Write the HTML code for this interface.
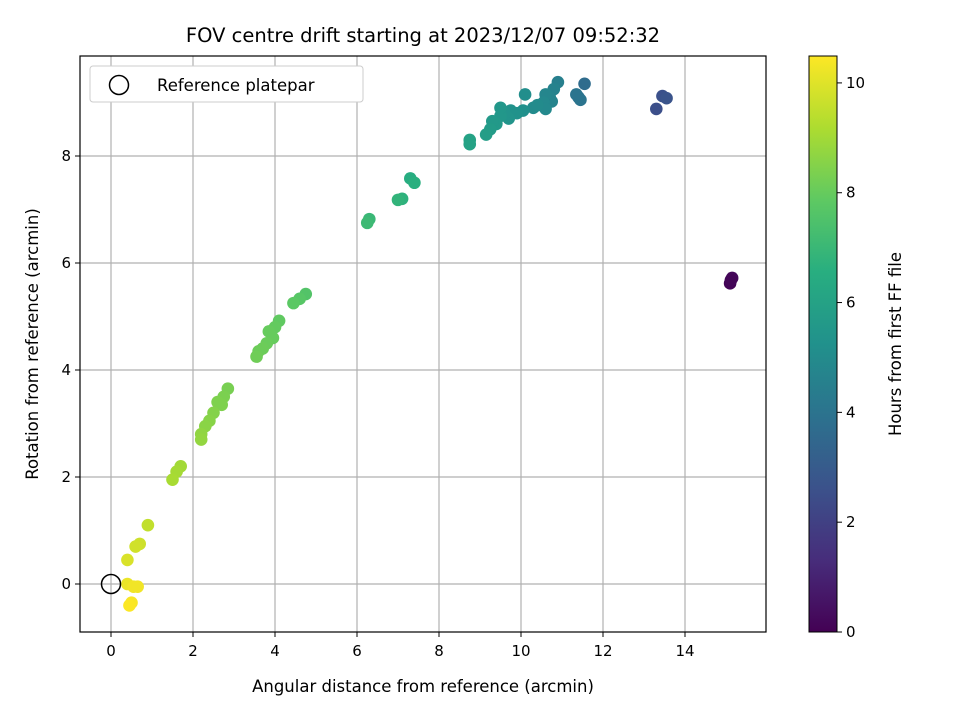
<!DOCTYPE html>
<html><head><meta charset="utf-8"><style>
body{margin:0;background:#fff;}
svg{font-family:"DejaVu Sans","Liberation Sans",sans-serif;}
</style></head><body>
<svg id="chart" width="960" height="720" xmlns="http://www.w3.org/2000/svg">
<rect width="960" height="720" fill="#fff"/>
<text x="423" y="42" text-anchor="middle" font-size="19.5">FOV centre drift starting at 2023/12/07 09:52:32</text>
<g id="grid"></g>
<g id="pts"></g>
<rect x="80" y="56" width="686" height="576" fill="none" stroke="#000" stroke-width="1.2"/>
<g id="ticks"></g>
<text x="423" y="692" text-anchor="middle" font-size="16.5">Angular distance from reference (arcmin)</text>
<text transform="translate(38,344) rotate(-90)" text-anchor="middle" font-size="16.5">Rotation from reference (arcmin)</text>
<g>
<rect x="90" y="66" width="273" height="36" rx="3" fill="#fff" stroke="#ccc"/>
<circle cx="119" cy="85" r="9.5" fill="none" stroke="#000" stroke-width="1.5"/>
<text x="157" y="91" font-size="16.5">Reference platepar</text>
</g>
<defs><linearGradient id="vir" x1="0" y1="1" x2="0" y2="0" id2="">
<stop offset="0" stop-color="#440154"/><stop offset="0.125" stop-color="#472d7b"/><stop offset="0.25" stop-color="#3b528b"/><stop offset="0.375" stop-color="#2c728e"/><stop offset="0.5" stop-color="#21918c"/><stop offset="0.625" stop-color="#28ae80"/><stop offset="0.75" stop-color="#5ec962"/><stop offset="0.875" stop-color="#addc30"/><stop offset="1" stop-color="#fde725"/></linearGradient></defs>
<rect x="809" y="56" width="28" height="576" fill="url(#vir)" stroke="#000" stroke-width="1"/>
<g id="cticks"></g>
<text transform="translate(901,344) rotate(-90)" text-anchor="middle" font-size="16.5">Hours from first FF file</text>
</svg>
<script>
const xs=[15.1,15.15,15.12,13.3,13.45,13.55,11.55,11.4,11.35,11.45,10.9,10.8,10.7,10.75,10.6,10.55,10.6,10.3,10.4,10.1,10.05,9.9,9.75,9.7,9.6,9.5,9.4,9.3,9.25,9.15,9.5,8.75,8.75,7.3,7.4,7.1,7.0,6.3,6.25,4.75,4.6,4.45,4.1,4.0,3.85,3.95,3.8,3.7,3.6,3.55,2.85,2.75,2.7,2.6,2.5,2.4,2.3,2.2,2.2,1.7,1.6,1.5,0.9,0.7,0.6,0.4,0.4,0.55,0.65,0.5,0.45];
const ys=[5.62,5.72,5.68,8.88,9.12,9.08,9.35,9.1,9.15,9.05,9.38,9.25,9.1,9.02,9.15,9.0,8.88,8.9,8.95,9.15,8.85,8.8,8.85,8.7,8.8,8.75,8.6,8.65,8.5,8.4,8.9,8.3,8.22,7.58,7.5,7.2,7.18,6.82,6.75,5.42,5.33,5.25,4.92,4.8,4.72,4.6,4.5,4.4,4.35,4.25,3.65,3.5,3.35,3.4,3.2,3.05,2.95,2.8,2.7,2.2,2.1,1.95,1.1,0.75,0.7,0.45,0.0,-0.05,-0.05,-0.35,-0.4];
const hours=[0.1,0.2,0.15,2.5,2.6,2.7,3.7,3.9,4.0,4.0,4.5,4.6,4.7,4.7,4.8,4.9,4.9,5.0,5.0,5.1,5.2,5.3,5.3,5.4,5.4,5.5,5.6,5.6,5.7,5.8,5.5,6.0,6.0,6.5,6.6,6.7,6.8,7.0,7.1,7.6,7.7,7.8,7.9,7.95,8.0,8.0,8.05,8.1,8.1,8.15,8.3,8.35,8.4,8.4,8.5,8.55,8.6,8.7,8.75,9.0,9.05,9.1,9.5,9.7,9.75,9.9,10.2,10.3,10.3,10.4,10.45];
const xTicks=[0,2,4,6,8,10,12,14];
const yTicks=[0,2,4,6,8];
const cTicks=[0,2,4,6,8,10];
const X=v=>111+v*41, Y=v=>584-v*53.5, C=v=>632-v*(576/10.49);
const vir=[[68,1,84],[71,45,123],[59,82,139],[44,114,142],[33,145,140],[40,174,128],[94,201,98],[173,220,48],[253,231,37]];
function col(h){let t=Math.max(0,Math.min(1,h/10.49))*8,i=Math.min(7,Math.floor(t)),f=t-i;
return 'rgb('+vir[i].map((c,k)=>Math.round(c+(vir[i+1][k]-c)*f)).join(',')+')';}
const NS='http://www.w3.org/2000/svg';
function mk(t,a,p){const e=document.createElementNS(NS,t);for(const k in a)e.setAttribute(k,a[k]);p.appendChild(e);return e;}
const g=document.getElementById('grid'),tk=document.getElementById('ticks'),pts=document.getElementById('pts'),ct=document.getElementById('cticks');
xTicks.forEach(v=>{const l=mk('line',{x1:X(v),x2:X(v),y1:56,y2:632,stroke:'#b0b0b0','stroke-width':1.2},g);


mk('line',{x1:X(v),x2:X(v),y1:632,y2:637,stroke:'#000'},tk);
const t=mk('text',{x:X(v),y:656,'text-anchor':'middle','font-size':15},tk);t.textContent=v;

});
yTicks.forEach(v=>{const l=mk('line',{x1:80,x2:766,y1:Y(v),y2:Y(v),stroke:'#b0b0b0','stroke-width':1.2},g);


mk('line',{x1:75,x2:80,y1:Y(v),y2:Y(v),stroke:'#000'},tk);
const t=mk('text',{x:71,y:Y(v)+5,'text-anchor':'end','font-size':15},tk);t.textContent=v;

});
cTicks.forEach(v=>{mk('line',{x1:837,x2:842,y1:C(v),y2:C(v),stroke:'#000'},ct);
const t=mk('text',{x:846,y:C(v)+5,'font-size':15},ct);t.textContent=v;

});
xs.forEach((x,i)=>{const c=mk('circle',{cx:X(x),cy:Y(ys[i]),r:6.3,fill:col(hours[i])},pts);

});
const r=mk('circle',{cx:X(0),cy:Y(0),r:9.5,fill:'none',stroke:'#000','stroke-width':1.5},pts);


</script>
</body></html>
